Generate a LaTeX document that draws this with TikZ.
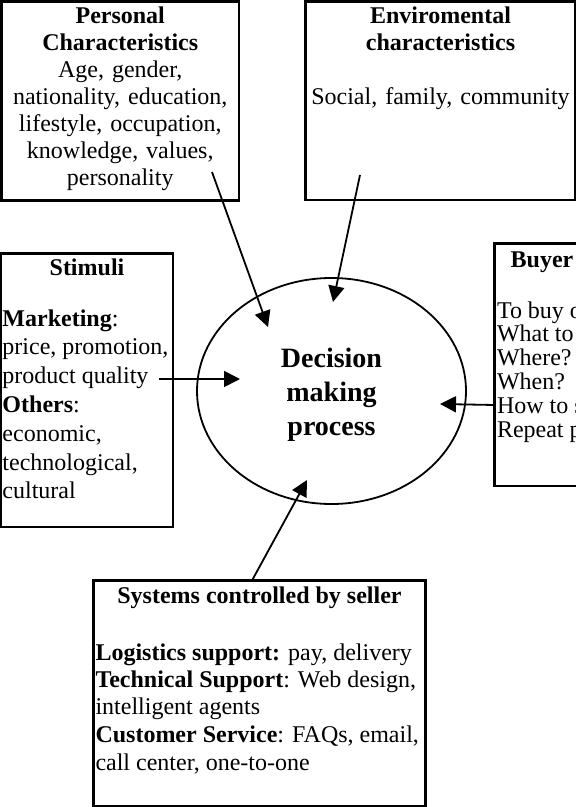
\documentclass[tikz,border=0pt]{standalone}
\usepackage{fontspec}
\setmainfont{Liberation Serif}
\usetikzlibrary{arrows.meta,shapes.geometric}
\tikzset{
    box/.style={draw, line width=1.3pt, anchor=north west, inner sep=0pt, outer sep=0pt},
    boxtext/.style={inner sep=0pt, outer sep=0pt, font=\fontsize{12}{13.5}\selectfont},
    pointer/.style={-{Triangle[length=8pt,width=8pt]}, line width=0.9pt},
}
\newcommand{\firstln}{\rule{0pt}{10pt}}

\begin{document}
\begin{tikzpicture}[x=0.5pt,y=-0.5pt]

            \useasboundingbox (0,0) rectangle (576,807);

            % boxes
            \node[box, minimum width=118.75pt, minimum height=99.5pt] (pers) at (1.5,1.5) {};
            \node[box, minimum width=134.75pt, minimum height=99.25pt] (envi) at (305.5,1.5) {};
            \node[box, minimum width=86pt, minimum height=136.75pt] (stim) at (1,253.5) {};
            \node[box, minimum width=47.75pt, minimum height=121.25pt] (buyer) at (494.5,243.5) {};
            \node[box, minimum width=166pt, minimum height=112.75pt] (sys) at (93.5,580.5) {};

            \node[draw, ellipse, line width=0.9pt, minimum width=134.5pt, minimum height=113pt, inner sep=0pt,
                align=center, font=\bfseries\fontsize{14}{17}\selectfont] (dmp) at (331.5,391) {\rule{0pt}{13pt}Decision\\making\\process};

            % box texts
            \node[boxtext, anchor=north, align=center, text width=116pt] (perstxt) at (120.25,4)
                {\firstln\textbf{Personal}\\\textbf{Characteristics}\\Age, gender,\\nationality, education,\\lifestyle, occupation,\\knowledge, values,\\personality};
            \node[boxtext, anchor=north, align=center, text width=132pt] (envitxt) at (440.5,4)
                {\firstln\textbf{Enviromental}\\\textbf{characteristics}\\[13.5pt]Social, family, community};
            \node[boxtext, anchor=north west, align=left, font=\fontsize{12}{14.4}\selectfont] (stimtxt) at (2.5,255)
                {\firstln\makebox[84.5pt]{\textbf{Stimuli}}\\[11.1pt]
                \textbf{Marketing}:\\price, promotion,\\product quality\\\textbf{Others}:\\
                economic,\\technological,\\cultural};
            \node[boxtext, anchor=north west, align=left, font=\fontsize{12}{11.9}\selectfont] (buyertxt) at (497,247)
                {\firstln\makebox[45pt]{\textbf{Buyer}}\\[13.6pt]
                To buy o\\What to\\Where?\\When?\\How to s\\Repeat p};
            \node[boxtext, anchor=north west, align=left] (systxt) at (95.5,583)
                {\firstln\makebox[164pt]{\textbf{Systems controlled by seller}}\\[15pt]
                \textbf{Logistics support:} pay, delivery\\\textbf{Technical Support}: Web design,\\
                intelligent agents\\[0.5pt]\textbf{Customer Service}: FAQs, email,\\[0.5pt]call center, one-to-one};

            \coordinate (P1) at (212,172);
            \coordinate (P2) at (268,327);
            \coordinate (E1) at (360,175);
            \coordinate (E2) at (333,302);
            \coordinate (S1) at (159,379);
            \coordinate (S2) at (240,379);
            \coordinate (B2) at (440,404);
            \coordinate (C2) at (307,480);

            \begin{scope}[pointer]
                \draw (P1) -- (P2);
                \draw (E1) -- (E2);
                \draw (S1) -- (S2);
                \draw (buyer.west |- 0,405) -- (B2);
                \draw (sys.north -| 252,0) -- (C2);
            \end{scope}
        \end{tikzpicture}
\end{document}
